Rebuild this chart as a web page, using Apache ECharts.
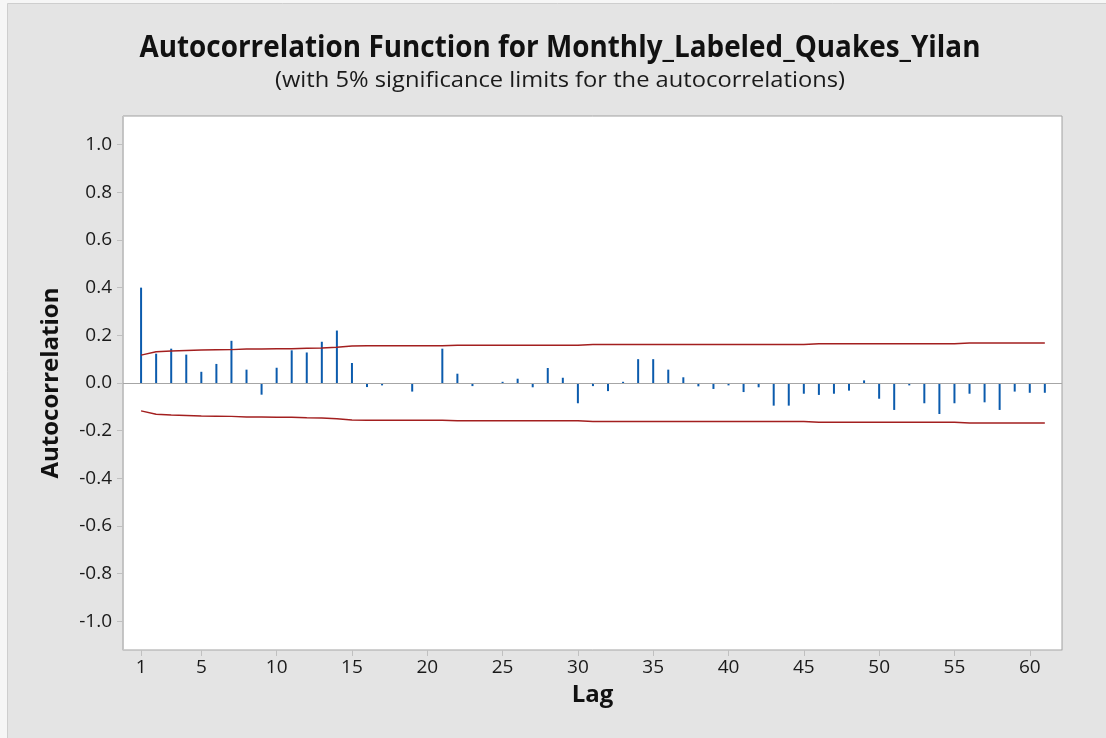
<!DOCTYPE html>
<html><head><meta charset="utf-8">
<script src="https://cdn.jsdelivr.net/npm/echarts@6/dist/echarts.min.js"></script>
<style>html,body{margin:0;padding:0;background:#fff}#c{width:1106px;height:738px}</style>
</head><body><div id="c"></div>
<script>
const titleText = 'Autocorrelation Function for Monthly_Labeled_Quakes_Yilan';
const subtitleText = '(with 5% significance limits for the autocorrelations)';
const lags = [1,2,3,4,5,6,7,8,9,10,11,12,13,14,15,16,17,18,19,20,21,22,23,24,25,26,27,28,29,30,
  31,32,33,34,35,36,37,38,39,40,41,42,43,44,45,46,47,48,49,50,51,52,53,54,55,56,57,58,59,60,61];
const acf = [0.400,0.123,0.144,0.119,0.047,0.080,0.177,0.056,-0.049,0.064,
  0.137,0.128,0.173,0.220,0.084,-0.017,-0.010,0.000,-0.036,0.000,
  0.144,0.039,-0.013,0.000,0.005,0.018,-0.018,0.063,0.022,-0.085,
  -0.013,-0.034,0.005,0.100,0.100,0.056,0.024,-0.014,-0.025,-0.010,
  -0.038,-0.018,-0.095,-0.095,-0.045,-0.050,-0.045,-0.032,0.011,-0.066,
  -0.113,-0.010,-0.085,-0.130,-0.085,-0.045,-0.081,-0.113,-0.036,-0.041,-0.041];
const upperLimit = [0.117,0.131,0.134,0.136,0.138,0.139,0.140,0.143,0.143,0.144,
  0.144,0.146,0.147,0.150,0.155,0.156,0.156,0.156,0.156,0.156,
  0.156,0.158,0.158,0.158,0.158,0.158,0.158,0.158,0.158,0.158,
  0.162,0.162,0.162,0.162,0.162,0.162,0.162,0.162,0.162,0.162,
  0.162,0.162,0.162,0.162,0.162,0.165,0.165,0.165,0.165,0.165,
  0.165,0.165,0.165,0.165,0.165,0.168,0.168,0.168,0.168,0.168,0.168];
const lowerLimit = [-0.117,-0.131,-0.134,-0.136,-0.138,-0.139,-0.140,-0.143,-0.143,-0.144,
  -0.144,-0.146,-0.147,-0.150,-0.155,-0.156,-0.156,-0.156,-0.156,-0.156,
  -0.156,-0.158,-0.158,-0.158,-0.158,-0.158,-0.158,-0.158,-0.158,-0.158,
  -0.162,-0.162,-0.162,-0.162,-0.162,-0.162,-0.162,-0.162,-0.162,-0.162,
  -0.162,-0.162,-0.162,-0.162,-0.162,-0.165,-0.165,-0.165,-0.165,-0.165,
  -0.165,-0.165,-0.165,-0.165,-0.165,-0.168,-0.168,-0.168,-0.168,-0.168,-0.168];
const xTicks = [1,5,10,15,20,25,30,35,40,45,50,55,60];
const yTicks = [-1.0,-0.8,-0.6,-0.4,-0.2,0,0.2,0.4,0.6,0.8,1.0];

const FONT = '"Open Sans", "Noto Sans", sans-serif';
function fitScale(text, font, target) {
  const c = document.createElement('canvas').getContext('2d');
  c.font = font;
  const w = c.measureText(text).width;
  return w > 0 ? target / w : 1;
}
const titleFont = 'bold 31px ' + FONT;
const subFont = '22px ' + FONT;
const sTitle = fitScale(titleText, titleFont, 841);
const sSub = fitScale(subtitleText, subFont, 570);

const chart = echarts.init(document.getElementById('c'), null, {renderer: 'canvas'});
chart.setOption({
  backgroundColor: '#f6f6f6',
  animation: false,
  graphic: [
    {type: 'rect', z: -10, silent: true,
     shape: {x: 7.5, y: 3.5, width: 1110, height: 740},
     style: {fill: '#e4e4e4', stroke: '#cecece', lineWidth: 1}},
    {type: 'text', x: 560, y: 48.5, scaleX: sTitle, silent: true,
     style: {text: titleText, font: titleFont, fill: '#111', align: 'center', verticalAlign: 'middle'}},
    {type: 'text', x: 560, y: 81, scaleX: sSub, silent: true,
     style: {text: subtitleText, font: subFont, fill: '#1a1a1a', align: 'center', verticalAlign: 'middle'}}
  ],
  grid: {left: 123, right: 44, top: 116, bottom: 88, show: true,
         backgroundColor: '#ffffff', borderColor: '#a0a0a0', borderWidth: 1, containLabel: false},
  xAxis: {
    type: 'value', min: -0.2, max: 62.14,
    splitLine: {show: false},
    axisLine: {show: true, onZero: false, lineStyle: {color: '#c6c6c6', width: 1}},
    axisTick: {show: true, customValues: xTicks, length: 6, lineStyle: {color: '#c0c0c0'}},
    axisLabel: {customValues: xTicks, fontSize: 19, fontFamily: FONT, color: '#1a1a1a', margin: 8},
    name: 'Lag', nameLocation: 'middle', nameGap: 33,
    nameTextStyle: {fontSize: 24, fontWeight: 'bold', fontFamily: FONT, color: '#111'}
  },
  yAxis: {
    type: 'value', min: -1.12, max: 1.12,
    splitLine: {show: false},
    axisLine: {show: true, onZero: false, lineStyle: {color: '#c6c6c6', width: 1}},
    axisTick: {show: true, customValues: yTicks, length: 6, lineStyle: {color: '#c0c0c0'}},
    axisLabel: {customValues: yTicks, fontSize: 19, fontFamily: FONT, color: '#1a1a1a', margin: 11,
                formatter: v => Number(v).toFixed(1)},
    name: 'Autocorrelation', nameLocation: 'middle', nameGap: 60, nameRotate: 90,
    nameTextStyle: {fontSize: 24, fontWeight: 'bold', fontFamily: FONT, color: '#111'}
  },
  series: [
    {type: 'bar', name: 'ACF', barWidth: 2,
     data: lags.map((l, i) => [l, acf[i]]),
     itemStyle: {color: '#0b5bad'},
     markLine: {silent: true, symbol: ['none', 'none'], label: {show: false},
                lineStyle: {color: '#a6a6a6', width: 1, type: 'solid'},
                data: [{yAxis: 0}]}},
    {type: 'line', name: 'Upper', showSymbol: false, symbol: 'none',
     data: lags.map((l, i) => [l, upperLimit[i]]),
     lineStyle: {color: '#a31f1f', width: 1.5}},
    {type: 'line', name: 'Lower', showSymbol: false, symbol: 'none',
     data: lags.map((l, i) => [l, lowerLimit[i]]),
     lineStyle: {color: '#a31f1f', width: 1.5}}
  ]
});
</script></body></html>
